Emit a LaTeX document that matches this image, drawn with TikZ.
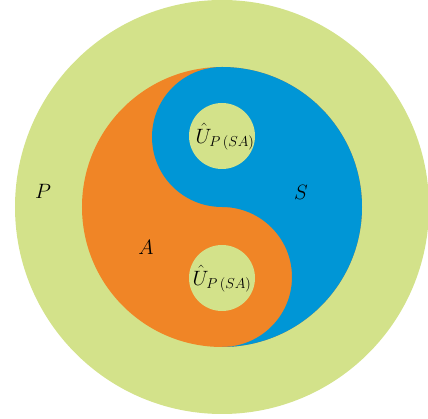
\documentclass[tikz,border=0pt]{standalone}
\usepackage{amsmath,amssymb}
\usepackage{xcolor}
\usepackage{tikz}
\definecolor{greenP}{HTML}{D3E28A}
\definecolor{orangeA}{HTML}{F08526}
\definecolor{blueS}{HTML}{0096D6}
\newcommand{\Uhat}{$\hat{U}_{P\,(SA)}$}

\begin{document}
\begin{tikzpicture}[x=1pt,y=1pt,font=\fontsize{20}{24}\selectfont]
\useasboundingbox (-222,-212) rectangle (206,207);
% outer set P
\fill[greenP] (0,0) circle (207);
% yin-yang of A and S
\fill[orangeA] (0,0) circle (140);
\fill[blueS] (0,140) arc[start angle=90,end angle=-90,radius=140]
  arc[start angle=-90,end angle=90,radius=70]
  arc[start angle=270,end angle=90,radius=70] -- cycle;
\fill[greenP] (0,71) circle (33);
\fill[greenP] (0,-71) circle (33);
\node (uS) at (3,70) {\Uhat};
\node (uA) at (0,-72) {\Uhat};
\node (lP) at (-179,16) {$P$};
\node (lS) at (79,15) {$S$};
\node (lA) at (-76,-40) {$A$};
\end{tikzpicture}
\end{document}
